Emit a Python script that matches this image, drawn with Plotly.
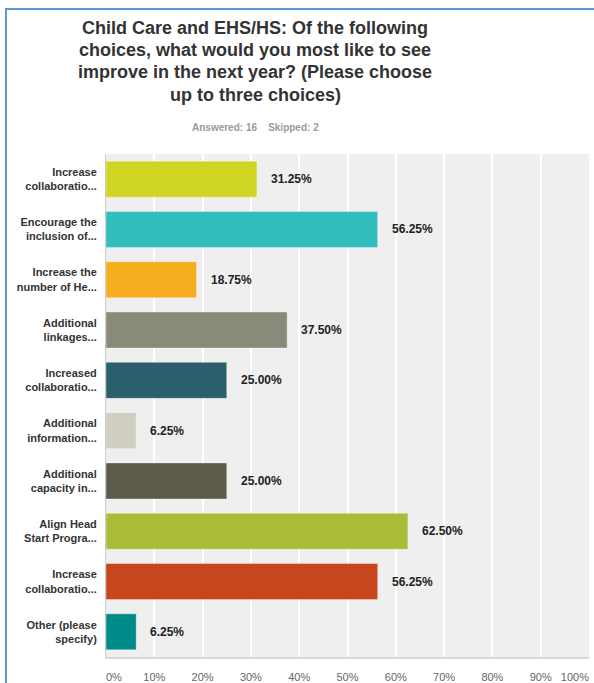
import plotly.graph_objects as go

# Survey answer choices (truncated as displayed) and share of respondents
choices = [
    "Increase<br>collaboratio...",
    "Encourage the<br>inclusion of...",
    "Increase the<br>number of He...",
    "Additional<br>linkages...",
    "Increased<br>collaboratio...",
    "Additional<br>information...",
    "Additional<br>capacity in...",
    "Align Head<br>Start Progra...",
    "Increase<br>collaboratio...",
    "Other (please<br>specify)",
]
percents = [31.25, 56.25, 18.75, 37.50, 25.00, 6.25, 25.00, 62.50, 56.25, 6.25]
bar_colors = [
    "#d0d524", "#33bebe", "#f6ae1f", "#898a79", "#2c5f6d",
    "#d0cec0", "#5b5a4b", "#abbd38", "#c8461d", "#008b8b",
]
tick_values = [0, 10, 20, 30, 40, 50, 60, 70, 80, 90, 100]
tick_labels = ["0%", "10%", "20%", "30%", "40%", "50%", "60%", "70%", "80%", "90%", "100%"]
title_lines = [
    "Child Care and EHS/HS: Of the following",
    "choices, what would you most like to see",
    "improve in the next year? (Please choose",
    "up to three choices)",
]
subtitle = "Answered: 16&nbsp;&nbsp;&nbsp;&nbsp;Skipped: 2"

W, H = 594, 683
ML, MR, MT, MB = 106, 5, 154, 26
PW, PH = W - ML - MR, H - MT - MB

FONT = "Arial, 'Liberation Sans', Helvetica, sans-serif"
TICK_FONT = dict(family=FONT, size=11, color="#666666")

def px_x(px):
    return (px - ML) / PW

def px_y(py):
    return (H - MB - py) / PH

fig = go.Figure(
    go.Bar(
        x=percents,
        y=list(range(len(choices))),
        orientation="h",
        marker=dict(color=bar_colors, line=dict(color="rgba(255,255,255,0.35)", width=1)),
        hoverinfo="skip",
    )
)

# Empty traces so the two overlay axes carrying the end labels get drawn
for ax in ("x2", "x3"):
    fig.add_trace(go.Scatter(x=[None], y=[None], xaxis=ax, yaxis="y",
                             mode="markers", hoverinfo="skip", showlegend=False))

for i, v in enumerate(percents):
    fig.add_annotation(
        x=v, y=i, xref="x", yref="y",
        text=f"<b>{v:.2f}%</b>",
        showarrow=False, xanchor="left", yanchor="middle", xshift=12,
        font=dict(family=FONT, size=12, color="#222222"),
    )

title_y = [28, 50, 72, 95]
for line, py in zip(title_lines, title_y):
    fig.add_annotation(
        x=px_x(255), y=px_y(py), xref="paper", yref="paper",
        text=f"<b>{line}</b>", showarrow=False,
        xanchor="center", yanchor="middle",
        font=dict(family=FONT, size=18, color="#333333"),
    )

fig.add_annotation(
    x=px_x(255), y=px_y(127), xref="paper", yref="paper",
    text=f"<b>{subtitle}</b>", showarrow=False,
    xanchor="center", yanchor="middle",
    font=dict(family=FONT, size=10, color="#9a9a9a"),
)

# Blue frame along the top and left edges
fig.add_shape(
    type="path", xref="paper", yref="paper",
    path=f"M {px_x(6)} {px_y(H + 2)} L {px_x(6)} {px_y(9)} L {px_x(W + 2)} {px_y(9)}",
    line=dict(color="#5b9bd5", width=2),
)

common_x = dict(
    range=[0, 100], showgrid=False, zeroline=False, showline=False,
    ticks="", ticklabelstandoff=12, automargin=False,
    tickfont=TICK_FONT, fixedrange=True,
)

fig.update_layout(
    width=W, height=H,
    margin=dict(l=ML, r=MR, t=MT, b=MB, pad=0, autoexpand=False),
    paper_bgcolor="white",
    plot_bgcolor="#efefef",
    showlegend=False,
    bargap=0.284,
    font=dict(family=FONT),
    xaxis=dict(
        range=[0, 100], tickvals=tick_values[1:-1], ticktext=tick_labels[1:-1],
        showgrid=True, gridcolor="white", gridwidth=1.5,
        zeroline=False, showline=True, linecolor="#d8d8d8", linewidth=2,
        ticks="", ticklabelstandoff=9, automargin=False,
        tickfont=TICK_FONT, fixedrange=True,
    ),
    # end labels sit inside the frame: 0% to the right of its tick, 100% to the left
    xaxis2=dict(
        common_x, overlaying="x", anchor="y", side="bottom",
        tickvals=tick_values[:1], ticktext=tick_labels[:1],
        ticklabelposition="outside right",
    ),
    xaxis3=dict(
        common_x, overlaying="x", anchor="y", side="bottom",
        tickvals=tick_values[-1:], ticktext=tick_labels[-1:],
        ticklabelposition="outside left",
    ),
    yaxis=dict(
        tickvals=list(range(len(choices))),
        ticktext=[f"<b>{c}</b>" for c in choices],
        range=[len(choices) - 0.5, -0.5],
        showgrid=False, zeroline=False,
        showline=True, linecolor="#cccccc", linewidth=1,
        ticks="", ticklabelstandoff=6, automargin=False,
        tickfont=dict(family=FONT, size=11, color="#333333"),
        fixedrange=True,
    ),
)

fig.write_html("out.html")
